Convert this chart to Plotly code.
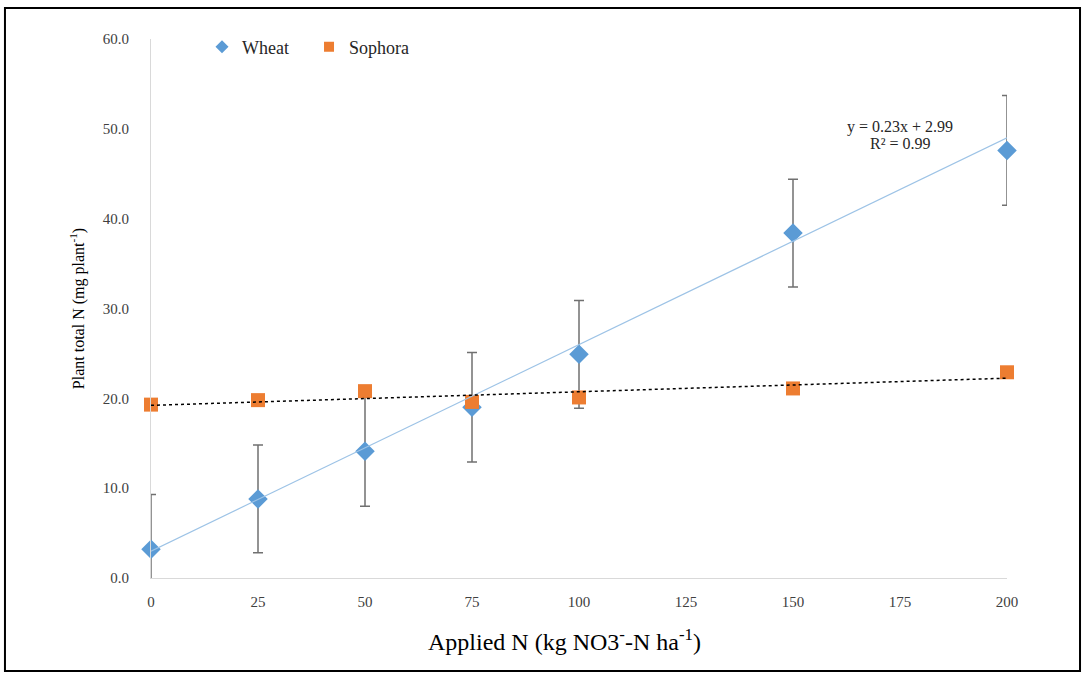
import numpy as np
import plotly.graph_objects as go

# Applied nitrogen levels (kg NO3--N ha-1)
applied_n = [0, 25, 50, 75, 100, 150, 200]

# Plant total N (mg plant-1)
wheat_n = [3.2, 8.8, 14.1, 19.0, 24.9, 38.4, 47.6]
wheat_err = [6.1, 6.0, 6.1, 6.1, 6.0, 6.0, 6.1]
sophora_n = [19.3, 19.8, 20.8, 19.6, 20.1, 21.1, 22.9]

# Wheat linear fit as reported on the chart
wheat_slope, wheat_intercept = 0.23, 2.99
wheat_r2 = 0.99

x_ticks = [0, 25, 50, 75, 100, 125, 150, 175, 200]
y_ticks = [0, 10, 20, 30, 40, 50, 60]

serif = "Times New Roman"
tick_color = "#404040"
wheat_color = "#5B9BD5"
sophora_color = "#ED7D31"

trend_x = np.array([applied_n[0], applied_n[-1]], dtype=float)
wheat_trend = wheat_slope * trend_x + wheat_intercept
soph_coef = np.polyfit(applied_n, sophora_n, 1)
soph_trend = np.polyval(soph_coef, trend_x)

fig = go.Figure()

# error bars (clipped to the plotting area)
fig.add_trace(go.Scatter(
    x=applied_n, y=wheat_n, mode="markers", showlegend=False,
    marker=dict(size=1, opacity=0), hoverinfo="skip",
    error_y=dict(type="data", array=wheat_err, visible=True,
                 color="#707070", thickness=1.5, width=5),
))
fig.add_trace(go.Scatter(
    x=applied_n, y=wheat_n, mode="markers", name="Wheat", showlegend=False,
    marker=dict(symbol="diamond", size=15, color=wheat_color),
    cliponaxis=False,
))
fig.add_trace(go.Scatter(
    x=applied_n, y=sophora_n, mode="markers", name="Sophora", showlegend=False,
    marker=dict(symbol="square", size=14, color=sophora_color),
    cliponaxis=False,
))
fig.add_trace(go.Scatter(
    x=trend_x, y=wheat_trend, mode="lines", showlegend=False,
    line=dict(color="#9DC3E6", width=1.2), hoverinfo="skip",
))
fig.add_trace(go.Scatter(
    x=trend_x, y=soph_trend, mode="lines", showlegend=False,
    line=dict(color="#000000", width=1.5, dash="dot"), hoverinfo="skip",
))

# legend entries with small symbols
fig.add_trace(go.Scatter(
    x=[None], y=[None], mode="markers", name="Wheat",
    marker=dict(symbol="diamond", size=10, color=wheat_color),
))
fig.add_trace(go.Scatter(
    x=[None], y=[None], mode="markers", name="Sophora",
    marker=dict(symbol="square", size=10, color=sophora_color),
))

# fitted equation for wheat
eq_font = dict(family=serif, size=16, color="#262626")
fig.add_annotation(
    x=175, y=50.2, xref="x", yref="y", showarrow=False,
    text=f"y = {wheat_slope}x + {wheat_intercept}", font=eq_font,
)
fig.add_annotation(
    x=175, y=48.4, xref="x", yref="y", showarrow=False,
    text=f"R² = {wheat_r2}", font=eq_font,
)

# x-axis title, set slightly left of the plot centre
fig.add_annotation(
    x=0.4836, y=-0.115, xref="paper", yref="paper", showarrow=False,
    xanchor="center", yanchor="middle",
    text="Applied N (kg NO3<sup>-</sup>-N ha<sup>-1</sup>)",
    font=dict(family=serif, size=24, color="#000000"),
)

# outer frame around the whole figure
fig.add_shape(
    type="rect", xref="paper", yref="paper",
    x0=-0.1706, x1=1.0853, y0=-0.1725, y1=1.0575,
    line=dict(color="#000000", width=2), fillcolor="rgba(0,0,0,0)",
    layer="below",
)

fig.update_layout(
    width=1086, height=675,
    margin=dict(l=151, r=79, t=39, b=97),
    paper_bgcolor="white", plot_bgcolor="white",
    font=dict(family=serif, color=tick_color),
    showlegend=True,
    legend=dict(
        orientation="h", x=0.0596, y=0.985, xanchor="left", yanchor="middle",
        font=dict(family=serif, size=18, color="#262626"),
        bgcolor="rgba(0,0,0,0)", entrywidth=62, entrywidthmode="pixels",
        borderwidth=0,
    ),
    xaxis=dict(
        range=[0, 200], tickvals=x_ticks, ticktext=[str(v) for v in x_ticks],
        showgrid=False, zeroline=False, showline=True, linecolor="#d9d9d9",
        linewidth=1, ticks="", ticklabelstandoff=10,
        tickfont=dict(family=serif, size=15, color=tick_color),
    ),
    yaxis=dict(
        range=[0, 60], tickvals=y_ticks, ticktext=[f"{v:.1f}" for v in y_ticks],
        showgrid=False, zeroline=False, showline=True, linecolor="#d9d9d9",
        linewidth=1, ticks="", ticklabelstandoff=18,
        tickfont=dict(family=serif, size=15, color=tick_color),
        title=dict(text="Plant total N (mg plant<sup>-1</sup>)",
                   font=dict(family=serif, size=16, color="#000000"),
                   standoff=14),
    ),
)

fig.write_html("out.html")
